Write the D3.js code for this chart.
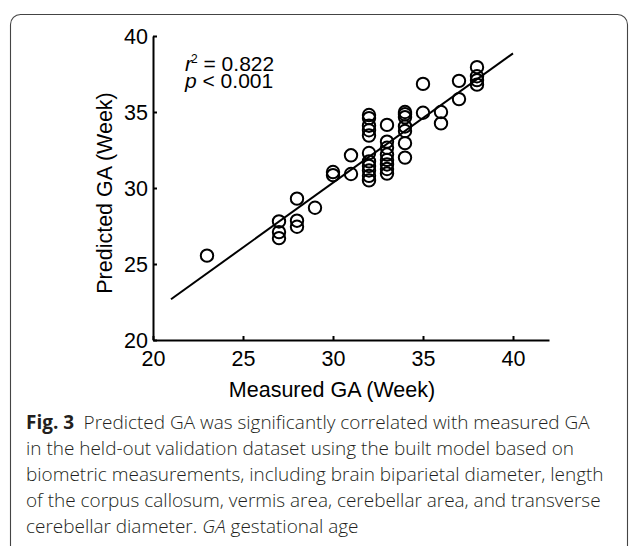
<!DOCTYPE html>
<html>
<head>
<meta charset="utf-8">
<script src="https://cdn.jsdelivr.net/npm/d3@7"></script>
<style>
  body { margin: 0; background: #fff; }
  svg text { fill: #000; }
  .axis text { font-family: "Liberation Sans", Arial, sans-serif; font-size: 21.5px; }
  .caption { font-family: "Open Sans", sans-serif; font-weight: 300; }
  .caption text { fill: #231f20; }
</style>
</head>
<body>
<svg id="chart"></svg>
<script>
// measured GA (x) and predicted GA (y)
const measured = [23,
  27, 27, 27,
  28, 28, 28,
  29,
  30, 30,
  31, 31,
  32, 32, 32, 32, 32, 32, 32, 32, 32, 32, 32,
  33, 33, 33, 33, 33, 33, 33, 33,
  34, 34, 34, 34, 34, 34, 34,
  35, 35,
  36, 36,
  37, 37,
  38, 38, 38, 38];
const predicted = [25.55,
  27.8, 27.1, 26.7,
  29.3, 27.85, 27.45,
  28.7,
  31.05, 30.85,
  32.15, 30.92,
  34.8, 34.6, 34.1, 33.8, 33.45, 32.3, 31.75, 31.45, 31.15, 30.8, 30.5,
  34.15, 33.05, 32.65, 32.2, 31.85, 31.55, 31.25, 30.95,
  35.0, 34.85, 34.65, 34.05, 33.75, 32.95, 32.0,
  36.85, 34.95,
  35.0, 34.25,
  37.05, 35.85,
  37.95, 37.35, 37.1, 36.8];

// fitted line end points
const fitX = [21, 40];
const fitY = [22.68, 38.86];

const xTicks = [20, 25, 30, 35, 40];
const yTicks = [20, 25, 30, 35, 40];

const captionLines = [
  'Predicted GA was significantly correlated with measured GA',
  'in the held-out validation dataset using the built model based on',
  'biometric measurements, including brain biparietal diameter, length',
  'of the corpus callosum, vermis area, cerebellar area, and transverse',
  'cerebellar diameter.'
];

let width = 629, height = 546;
let axisFont = '"Liberation Sans", Arial, sans-serif';

let svg = d3.select('#chart')
            .attr('width', width)
            .attr('height', height);

// rounded frame, runs off the right and bottom edge
svg.append('rect')
   .attr('x', 10.5).attr('y', 14.5)
   .attr('width', 617).attr('height', 600)
   .attr('rx', 10)
   .attr('fill', 'none')
   .attr('stroke', '#444')
   .attr('stroke-width', 1.1);

let x = d3.scaleLinear().domain([20, 42]).range([153, 549]);
let y = d3.scaleLinear().domain([20, 40]).range([340, 36]);

let xAxis = svg.append('g')
               .classed('axis', true)
               .attr('transform', `translate(0,${y(20)})`)
               .call(d3.axisBottom(x).tickValues(xTicks).tickSizeInner(-4).tickSizeOuter(0));

let yAxis = svg.append('g')
               .classed('axis', true)
               .attr('transform', `translate(${x(20)},0)`)
               .call(d3.axisLeft(y).tickValues(yTicks).tickSizeInner(-4).tickSizeOuter(0));

svg.selectAll('.axis path, .axis line')
   .attr('stroke', '#000')
   .attr('stroke-width', 2);

xAxis.selectAll('text').attr('y', 26).attr('dy', null);
yAxis.selectAll('text').attr('x', -5).attr('dy', '0.36em');

// axis titles
svg.append('text')
   .attr('x', 332).attr('y', 397)
   .attr('text-anchor', 'middle')
   .style('font-family', axisFont)
   .style('font-size', '21.5px')
   .text('Measured GA (Week)');

svg.append('text')
   .attr('transform', 'translate(112,193) rotate(-90)')
   .attr('text-anchor', 'middle')
   .style('font-family', axisFont)
   .style('font-size', '21.5px')
   .text('Predicted GA (Week)');

// regression line
svg.append('line')
   .attr('x1', x(fitX[0])).attr('y1', y(fitY[0]))
   .attr('x2', x(fitX[1])).attr('y2', y(fitY[1]))
   .attr('stroke', '#000')
   .attr('stroke-width', 2);

// points
svg.append('g')
   .selectAll('circle')
   .data(measured.map((m, i) => ({m: m, p: predicted[i]})))
   .enter()
   .append('circle')
   .attr('cx', d => x(d.m))
   .attr('cy', d => y(d.p))
   .attr('r', 6.2)
   .attr('fill', 'none')
   .attr('stroke', '#000')
   .attr('stroke-width', 2);

// stats, one text per line
let stats = svg.append('g')
               .style('font-family', axisFont)
               .style('font-size', '21px');
let r2 = stats.append('text').attr('x', 185).attr('y', 70.5);
r2.append('tspan').style('font-style', 'italic').text('r');
r2.append('tspan').attr('dy', -8).attr('dx', -1).style('font-size', '12px').text('2');
r2.append('tspan').attr('dy', 8).text(' = 0.822');
let pv = stats.append('text').attr('x', 185).attr('y', 88);
pv.append('tspan').style('font-style', 'italic').text('p');
pv.append('tspan').text(' < 0.001');

// caption
let cap = svg.append('g').classed('caption', true);
let lineY0 = 429, lineGap = 26, fs = 17;
captionLines.forEach((line, i) => {
  let t = cap.append('text')
             .attr('x', 26)
             .attr('y', lineY0 + i * lineGap)
             .style('font-size', fs + 'px');
  if (i === 0) {
    t.append('tspan').style('font-weight', 'bold').text('Fig. 3');
    t.append('tspan').text('\u2002' + line);
  } else if (i === captionLines.length - 1) {
    t.append('tspan').text(line + ' ');
    t.append('tspan').style('font-style', 'italic').text('GA');
    t.append('tspan').text(' gestational age');
  } else {
    t.text(line);
  }
});

// fit caption size so line 3 ends where it does in the figure
let probe = cap.selectAll('text').nodes()[2];
let w = probe.getComputedTextLength();
let fit = fs * 578 / w;
cap.selectAll('text').style('font-size', fit + 'px');
</script>
</body>
</html>
